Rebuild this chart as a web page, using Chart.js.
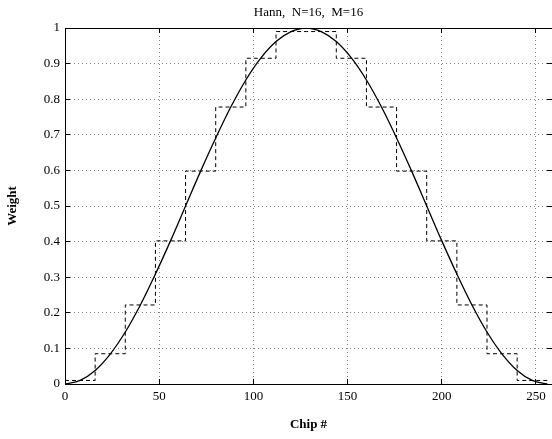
<!DOCTYPE html>
<html>
<head>
<meta charset="utf-8">
<script src="https://cdn.jsdelivr.net/npm/chart.js@4/dist/chart.umd.min.js"></script>
<style>
  body { margin: 0; background: #fff; }
  canvas { display: block; }
</style>
</head>
<body>
<canvas id="hannChart" width="552" height="439"></canvas>
<script>
// Continuous Hann weighting over the chip positions
const chipPos = [0, 8, 16, 24, 32, 40, 48, 56, 64, 72, 80, 88, 96, 104, 112, 120, 128,
  136, 144, 152, 160, 168, 176, 184, 192, 200, 208, 216, 224, 232, 240, 248, 256];
const curveWeight = [0, 0.01, 0.038, 0.084, 0.146, 0.222, 0.309, 0.402, 0.5, 0.598, 0.691,
  0.778, 0.854, 0.916, 0.962, 0.99, 1, 0.99, 0.962, 0.916, 0.854, 0.778, 0.691, 0.598, 0.5,
  0.402, 0.309, 0.222, 0.146, 0.084, 0.038, 0.01, 0];

// Quantised weights, one per block of 16 chips
const stepEdges = [0, 16, 32, 48, 64, 80, 96, 112, 128, 144, 160, 176, 192, 208, 224, 240, 256];
const stepWeight = [0.01, 0.085, 0.222, 0.402, 0.598, 0.778, 0.915, 0.99,
  0.99, 0.915, 0.778, 0.598, 0.402, 0.222, 0.085, 0.01];

const xTicks = [0, 50, 100, 150, 200, 250];
const yTicks = [0, 0.1, 0.2, 0.3, 0.4, 0.5, 0.6, 0.7, 0.8, 0.9, 1];

const serif = "'Liberation Serif', 'Times New Roman', serif";
const xMax = 258.5;

const curveData = chipPos.map((x, i) => ({ x: x, y: curveWeight[i] }));
// last edge repeats the final level so the staircase closes at 256
const stepData = stepEdges.map((x, i) => ({ x: x, y: stepWeight[Math.min(i, stepWeight.length - 1)] }));

// dotted grid, ticks point into the plot like a boxed axes
const inwardGrid = {
  color: 'rgba(0,0,0,0.5)',
  lineWidth: 1,
  drawTicks: true,
  tickLength: -5,
  tickColor: '#000',
  tickBorderDash: []
};
// in v4 border.dash is what dashes the grid lines
const dottedBorder = { display: true, color: '#000', width: 1, dash: [1, 3] };

const ctx = document.getElementById('hannChart').getContext('2d');
new Chart(ctx, {
  type: 'line',
  data: {
    datasets: [
      {
        data: curveData,
        borderColor: '#000',
        borderWidth: 1.3,
        pointRadius: 0,
        cubicInterpolationMode: 'monotone',
        fill: false
      },
      {
        data: stepData,
        borderColor: '#000',
        borderWidth: 1,
        borderDash: [4, 3],
        pointRadius: 0,
        stepped: 'before',
        fill: false
      }
    ]
  },
  options: {
    responsive: false,
    animation: false,
    events: [],
    layout: { padding: 0 },
    plugins: {
      legend: { display: false },
      tooltip: { enabled: false },
      title: {
        display: true,
        text: 'Hann,  N=16,  M=16',
        fullSize: false,
        color: '#000',
        font: { family: serif, size: 13, weight: 'normal' },
        padding: { top: 5, bottom: 7.4 }
      }
    },
    scales: {
      x: {
        type: 'linear',
        position: 'bottom',
        min: 0,
        max: xMax,
        afterBuildTicks: (scale) => { scale.ticks = xTicks.map(v => ({ value: v })); },
        afterFit: (scale) => { scale.height = 55; scale.paddingLeft = 0; scale.paddingRight = 0; },
        grid: inwardGrid,
        border: dottedBorder,
        ticks: {
          color: '#000',
          font: { family: serif, size: 13 },
          padding: 10,
          maxRotation: 0,
          callback: (v) => String(v)
        },
        title: {
          display: true,
          text: 'Chip #',
          color: '#000',
          font: { family: serif, size: 13, weight: 'bold' },
          padding: { top: 0, bottom: 7 }
        }
      },
      y: {
        type: 'linear',
        position: 'left',
        min: 0,
        max: 1,
        afterBuildTicks: (scale) => { scale.ticks = yTicks.map(v => ({ value: v })); },
        afterFit: (scale) => { scale.width = 65; scale.paddingTop = 0; scale.paddingBottom = 0; },
        grid: inwardGrid,
        border: dottedBorder,
        ticks: {
          color: '#000',
          font: { family: serif, size: 13 },
          padding: 10,
          callback: (v) => String(v)
        },
        title: {
          display: true,
          text: 'Weight',
          color: '#000',
          font: { family: serif, size: 13, weight: 'bold' },
          padding: { top: 5, bottom: 0 }
        }
      },
      xTop: {
        type: 'linear',
        position: 'top',
        min: 0,
        max: xMax,
        afterBuildTicks: (scale) => { scale.ticks = xTicks.map(v => ({ value: v })); },
        afterFit: (scale) => { scale.height = 0; scale.paddingLeft = 0; scale.paddingRight = 0; },
        grid: { drawOnChartArea: false, drawTicks: true, tickLength: -5, tickColor: '#000' },
        border: { display: true, color: '#000', width: 1 },
        ticks: { display: false }
      },
      yRight: {
        type: 'linear',
        position: 'right',
        min: 0,
        max: 1,
        afterBuildTicks: (scale) => { scale.ticks = yTicks.map(v => ({ value: v })); },
        afterFit: (scale) => { scale.width = 0; scale.paddingTop = 0; scale.paddingBottom = 0; },
        grid: { drawOnChartArea: false, drawTicks: true, tickLength: -5, tickColor: '#000' },
        border: { display: false },
        ticks: { display: false }
      }
    }
  }
});
</script>
</body>
</html>
